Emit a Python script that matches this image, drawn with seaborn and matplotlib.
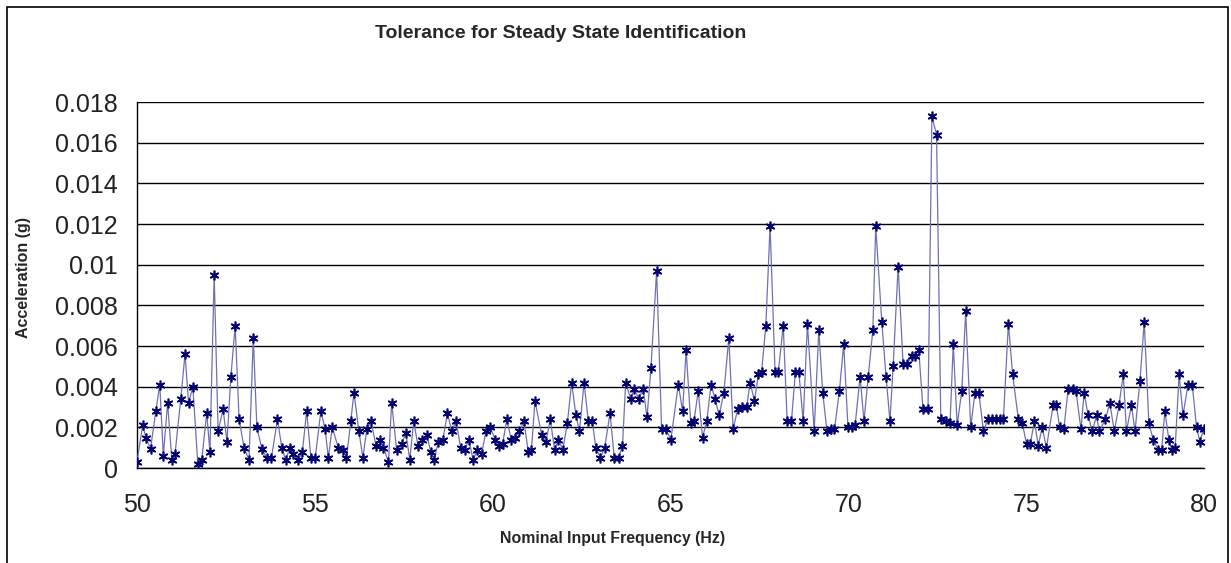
import matplotlib
matplotlib.use("Agg")
import matplotlib.pyplot as plt
from matplotlib.patches import Rectangle
from matplotlib.ticker import FuncFormatter, MultipleLocator
import seaborn as sns

title = "Tolerance for Steady State Identification"
x_label = "Nominal Input Frequency (Hz)"
y_label = "Acceleration (g)"

freq = [
    50.00, 50.16, 50.25, 50.38, 50.53, 50.64, 50.74, 50.86, 50.98, 51.07,
    51.23, 51.35, 51.45, 51.57, 51.71, 51.82, 51.96, 52.05, 52.17, 52.28,
    52.42, 52.53, 52.64, 52.76, 52.87, 53.01, 53.15, 53.27, 53.37, 53.51,
    53.65, 53.78, 53.95, 54.07, 54.18, 54.30, 54.39, 54.54, 54.65, 54.77,
    54.89, 55.01, 55.17, 55.29, 55.38, 55.49, 55.66, 55.80, 55.89, 56.01,
    56.10, 56.24, 56.35, 56.46, 56.58, 56.72, 56.83, 56.93, 57.07, 57.16,
    57.30, 57.44, 57.56, 57.67, 57.78, 57.90, 58.02, 58.15, 58.26, 58.36,
    58.47, 58.60, 58.73, 58.85, 58.97, 59.10, 59.22, 59.33, 59.45, 59.57,
    59.69, 59.81, 59.93, 60.07, 60.19, 60.28, 60.40, 60.52, 60.63, 60.75,
    60.88, 61.00, 61.09, 61.19, 61.38, 61.50, 61.62, 61.74, 61.85, 61.97,
    62.10, 62.22, 62.34, 62.44, 62.57, 62.69, 62.80, 62.90, 63.03, 63.15,
    63.30, 63.42, 63.54, 63.65, 63.74, 63.88, 63.98, 64.11, 64.23, 64.34,
    64.45, 64.61, 64.75, 64.87, 65.01, 65.22, 65.34, 65.44, 65.57, 65.66,
    65.78, 65.90, 66.02, 66.14, 66.25, 66.37, 66.50, 66.64, 66.76, 66.89,
    67.00, 67.14, 67.24, 67.36, 67.47, 67.56, 67.68, 67.80, 67.94, 68.03,
    68.17, 68.28, 68.40, 68.51, 68.61, 68.73, 68.85, 69.04, 69.17, 69.28,
    69.40, 69.51, 69.61, 69.75, 69.87, 69.99, 70.10, 70.19, 70.33, 70.44,
    70.56, 70.69, 70.77, 70.94, 71.06, 71.17, 71.26, 71.40, 71.54, 71.65,
    71.78, 71.87, 71.98, 72.10, 72.24, 72.35, 72.48, 72.60, 72.74, 72.86,
    72.95, 73.06, 73.19, 73.30, 73.44, 73.56, 73.67, 73.80, 73.92, 74.04,
    74.16, 74.27, 74.36, 74.50, 74.62, 74.78, 74.89, 75.01, 75.12, 75.23,
    75.34, 75.45, 75.57, 75.76, 75.85, 75.94, 76.06, 76.18, 76.31, 76.40,
    76.54, 76.63, 76.74, 76.86, 76.98, 77.05, 77.23, 77.35, 77.48, 77.61,
    77.73, 77.82, 77.96, 78.06, 78.20, 78.32, 78.45, 78.57, 78.71, 78.81,
    78.90, 79.01, 79.09, 79.19, 79.30, 79.41, 79.55, 79.67, 79.79, 79.88,
    79.99, 80.17,
]

accel = [
    0.0003, 0.0021, 0.0015, 0.00095, 0.0028, 0.0041, 0.0006, 0.0032, 0.0004, 0.0007,
    0.0034, 0.0056, 0.0032, 0.0040, 0.0002, 0.0004, 0.0027, 0.0008, 0.0095, 0.0018,
    0.0029, 0.0013, 0.0045, 0.0070, 0.0024, 0.0010, 0.0004, 0.0064, 0.0020, 0.00095,
    0.0005, 0.0005, 0.0024, 0.0010, 0.0004, 0.0010, 0.0007, 0.0004, 0.0008, 0.0028,
    0.0005, 0.0005, 0.0028, 0.0019, 0.0005, 0.0020, 0.0010, 0.0009, 0.0005, 0.0023,
    0.0037, 0.0018, 0.0005, 0.0019, 0.0023, 0.0011, 0.0014, 0.0010, 0.0003, 0.0032,
    0.0009, 0.0012, 0.0017, 0.0004, 0.0023, 0.0011, 0.0014, 0.0016, 0.0008, 0.0004,
    0.0013, 0.0014, 0.0027, 0.0018, 0.0023, 0.0010, 0.0009, 0.0014, 0.0004, 0.0009,
    0.0007, 0.0018, 0.0020, 0.0014, 0.0011, 0.0012, 0.0024, 0.0014, 0.0015, 0.0018,
    0.0023, 0.0008, 0.0009, 0.0033, 0.0016, 0.0013, 0.0024, 0.0009, 0.0014, 0.0009,
    0.0022, 0.0042, 0.0026, 0.0018, 0.0042, 0.0023, 0.0023, 0.0010, 0.0005, 0.0010,
    0.0027, 0.0005, 0.0005, 0.0011, 0.0042, 0.0034, 0.0039, 0.0034, 0.0039, 0.0025,
    0.0049, 0.0097, 0.0019, 0.0019, 0.0014, 0.0041, 0.0028, 0.0058, 0.0022, 0.0023,
    0.0038, 0.0015, 0.0023, 0.0041, 0.0034, 0.0026, 0.0037, 0.0064, 0.0019, 0.0029,
    0.0030, 0.0030, 0.0042, 0.0033, 0.0046, 0.0047, 0.0070, 0.0119, 0.0047, 0.0047,
    0.0070, 0.0023, 0.0023, 0.0047, 0.0047, 0.0023, 0.0071, 0.0018, 0.0068, 0.0037,
    0.0018, 0.0019, 0.0019, 0.0038, 0.0061, 0.0020, 0.0020, 0.0021, 0.0045, 0.0023,
    0.0045, 0.0068, 0.0119, 0.0072, 0.0045, 0.0023, 0.0050, 0.0099, 0.0051, 0.0051,
    0.0055, 0.0055, 0.0058, 0.0029, 0.0029, 0.0173, 0.0164, 0.0024, 0.0023, 0.0022,
    0.0061, 0.0021, 0.0038, 0.0077, 0.0020, 0.0037, 0.0037, 0.0018, 0.0024, 0.0024,
    0.0024, 0.0024, 0.0024, 0.0071, 0.0046, 0.0024, 0.0022, 0.0012, 0.0012, 0.0023,
    0.0011, 0.0020, 0.0010, 0.0031, 0.0031, 0.0020, 0.0019, 0.0039, 0.0039, 0.0038,
    0.0019, 0.0037, 0.0026, 0.0018, 0.0026, 0.0018, 0.0024, 0.0032, 0.0018, 0.0031,
    0.0046, 0.0018, 0.0031, 0.0018, 0.0043, 0.0072, 0.0022, 0.0014, 0.0009, 0.0009,
    0.0028, 0.0014, 0.0009, 0.0010, 0.0046, 0.0026, 0.0041, 0.0041, 0.0020, 0.0013,
    0.0019, 0.0030,
]

sns.set_style("white")
plt.rcParams["font.family"] = ["Liberation Sans", "DejaVu Sans"]

W, H = 1231, 563
fig = plt.figure(figsize=(W / 100, H / 100), dpi=100)
ax = fig.add_axes([137 / W, 1 - 468 / H, (1204 - 137) / W, (468 - 102) / H])

sns.lineplot(
    x=freq, y=accel, ax=ax, estimator=None, sort=False,
    color="#7070b4", linewidth=0.9,
    marker=(6, 2, 0), markersize=7,
    markeredgecolor="#000070", markerfacecolor="#000070", markeredgewidth=1.2,
    zorder=3,
)

ax.set_xlim(50, 80)
ax.set_ylim(0, 0.018)
ax.xaxis.set_major_locator(MultipleLocator(5))
ax.yaxis.set_major_locator(MultipleLocator(0.002))
ax.yaxis.set_major_formatter(FuncFormatter(lambda v, p: f"{round(v, 4):g}"))

ax.grid(axis="y", color="black", linewidth=1.0)
ax.grid(axis="x", visible=False)
ax.set_axisbelow(True)

for side in ["top", "right"]:
    ax.spines[side].set_visible(False)
for side in ["left", "bottom"]:
    ax.spines[side].set_color("black")
    ax.spines[side].set_linewidth(1.0)

ax.tick_params(axis="both", direction="out", length=7, width=1.0, color="black",
               labelsize=18, labelcolor="#222222")
ax.tick_params(axis="y", pad=7)
ax.tick_params(axis="x", pad=11)

ax.set_xlabel(x_label, fontsize=11.4, fontweight="bold")
ax.set_ylabel(y_label, fontsize=11.5, fontweight="bold")
ax.xaxis.set_label_coords((613 - 137) / (1204 - 137), (468 - 531) / (468 - 102))
ax.yaxis.set_label_coords((31 - 137) / (1204 - 137), (468 - 278) / (468 - 102))

fig.text(561 / W, 1 - 33 / H, title, fontsize=14, fontweight="bold",
         ha="center", va="center")

fig.add_artist(Rectangle((7 / W, -0.05), (1228 - 7) / W, 1.05 - 7 / H,
                         fill=False, edgecolor="black", linewidth=1.2,
                         transform=fig.transFigure))

fig.savefig("out.png", dpi=100, facecolor="white")
